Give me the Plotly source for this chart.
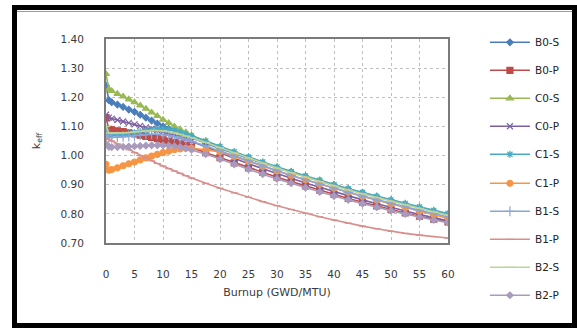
import plotly.graph_objects as go

burnup = [0, 0.5, 1, 2, 3, 4, 5, 6, 7, 8, 9, 10, 11, 12, 13, 14, 15,
          17.5, 20, 22.5, 25, 27.5, 30, 32.5, 35, 37.5, 40, 42.5, 45, 47.5, 50, 52.5, 55, 57.5, 60]

b0_s = [1.24, 1.19, 1.183, 1.175, 1.167, 1.158, 1.15, 1.14, 1.13, 1.12, 1.11, 1.10, 1.092, 1.084, 1.076, 1.068, 1.06,
        1.042, 1.024, 1.006, 0.99, 0.974, 0.958, 0.943, 0.928, 0.913, 0.899, 0.885, 0.872, 0.859, 0.846, 0.833, 0.821, 0.809, 0.797]
b0_p = [1.13, 1.09, 1.088, 1.085, 1.082, 1.078, 1.074, 1.07, 1.066, 1.062, 1.058, 1.054, 1.05, 1.045, 1.04, 1.034, 1.028,
        1.01, 0.993, 0.975, 0.958, 0.942, 0.926, 0.911, 0.896, 0.881, 0.867, 0.853, 0.84, 0.827, 0.815, 0.803, 0.792, 0.782, 0.772]
c0_s = [1.28, 1.228, 1.222, 1.212, 1.203, 1.193, 1.183, 1.172, 1.161, 1.148, 1.136, 1.123, 1.112, 1.10, 1.09, 1.08, 1.07,
        1.05, 1.03, 1.012, 0.995, 0.977, 0.96, 0.945, 0.93, 0.915, 0.90, 0.886, 0.873, 0.86, 0.847, 0.834, 0.822, 0.81, 0.798]
c0_p = [1.14, 1.13, 1.127, 1.122, 1.117, 1.112, 1.107, 1.102, 1.097, 1.092, 1.087, 1.082, 1.076, 1.07, 1.063, 1.056, 1.049,
        1.03, 1.01, 0.99, 0.972, 0.955, 0.938, 0.922, 0.906, 0.891, 0.876, 0.862, 0.848, 0.835, 0.822, 0.81, 0.798, 0.787, 0.776]
c1_s = [1.09, 1.07, 1.069, 1.07, 1.072, 1.075, 1.078, 1.082, 1.086, 1.089, 1.091, 1.091, 1.089, 1.085, 1.08, 1.074, 1.068,
        1.05, 1.031, 1.013, 0.995, 0.978, 0.961, 0.945, 0.93, 0.915, 0.9, 0.886, 0.873, 0.86, 0.848, 0.836, 0.824, 0.812, 0.801]
c1_p = [0.97, 0.95, 0.952, 0.958, 0.965, 0.972, 0.978, 0.985, 0.992, 0.998, 1.004, 1.01, 1.015, 1.02, 1.023, 1.025, 1.025,
        1.02, 1.012, 0.997, 0.98, 0.963, 0.947, 0.932, 0.917, 0.902, 0.888, 0.874, 0.86, 0.847, 0.834, 0.821, 0.809, 0.797, 0.785]
b1_s = [1.07, 1.062, 1.062, 1.063, 1.064, 1.066, 1.068, 1.07, 1.072, 1.073, 1.073, 1.072, 1.069, 1.065, 1.06, 1.055, 1.049,
        1.033, 1.016, 0.998, 0.981, 0.964, 0.948, 0.932, 0.917, 0.902, 0.888, 0.874, 0.861, 0.848, 0.836, 0.824, 0.812, 0.801, 0.79]
b1_p = [1.06, 1.055, 1.05, 1.04, 1.03, 1.02, 1.01, 1.0, 0.991, 0.982, 0.973, 0.964, 0.955, 0.947, 0.939, 0.931, 0.923,
        0.905, 0.888, 0.872, 0.857, 0.842, 0.828, 0.815, 0.802, 0.79, 0.779, 0.768, 0.758, 0.749, 0.74, 0.733, 0.727, 0.722, 0.717]
b2_s = [1.10, 1.078, 1.077, 1.077, 1.078, 1.079, 1.081, 1.083, 1.085, 1.086, 1.086, 1.085, 1.082, 1.078, 1.073, 1.067, 1.061,
        1.045, 1.027, 1.009, 0.991, 0.974, 0.957, 0.941, 0.926, 0.911, 0.896, 0.882, 0.869, 0.856, 0.843, 0.831, 0.819, 0.807, 0.795]
b2_p = [1.04, 1.03, 1.029, 1.029, 1.03, 1.031, 1.032, 1.033, 1.034, 1.035, 1.035, 1.035, 1.034, 1.032, 1.029, 1.025, 1.02,
        1.005, 0.988, 0.97, 0.953, 0.936, 0.92, 0.905, 0.89, 0.875, 0.861, 0.848, 0.835, 0.823, 0.811, 0.8, 0.789, 0.779, 0.77]

series_names = ["B0-S", "B0-P", "C0-S", "C0-P", "C1-S", "C1-P", "B1-S", "B1-P", "B2-S", "B2-P"]
series_values = [b0_s, b0_p, c0_s, c0_p, c1_s, c1_p, b1_s, b1_p, b2_s, b2_p]
colors = ["#4A7EBB", "#BE4B48", "#98B954", "#7D60A0", "#46AAC5", "#F69545", "#8DA5D4", "#D88E8C", "#BFD39A", "#A99BBD"]
symbols = ["diamond", "square", "triangle-up", "x-thin-open", "asterisk-open", "circle", "cross-thin-open", "line-ew-open", "line-ew-open", "diamond"]
sizes = [5, 6, 6, 6, 6, 6, 7, 5, 6, 5]

fig = go.Figure()
for i, (name, vals, col, sym, sz) in enumerate(zip(series_names, series_values, colors, symbols, sizes)):
    fig.add_trace(go.Scatter(
        x=burnup, y=vals, name=name, mode="lines+markers", legendgroup=name,
        legend="legend" if i < 5 else "legend2",
        line=dict(color=col, width=1.6),
        marker=dict(symbol=sym, size=sz, color=col, line=dict(color=col, width=1.2)),
    ))

txt = "#3a3a3a"
font_family = "DejaVu Sans"
leg_common = dict(xanchor="left", yanchor="top", font=dict(size=10.5, color="#222222"),
                  tracegroupgap=9, bgcolor="rgba(0,0,0,0)", itemwidth=40)


def px_y(p):
    return (243 - p) / 204


def px_x(p):
    return (p - 106) / 342


nofill_line = dict(color="black", width=0)
shapes = [
    dict(type="rect", xref="paper", yref="paper", x0=px_x(12), x1=px_x(577), y0=px_y(10), y1=px_y(5),
         fillcolor="black", line=nofill_line),
    dict(type="rect", xref="paper", yref="paper", x0=px_x(12), x1=px_x(577), y0=px_y(328), y1=px_y(323),
         fillcolor="black", line=nofill_line),
    dict(type="rect", xref="paper", yref="paper", x0=px_x(12), x1=px_x(17), y0=px_y(328), y1=px_y(5),
         fillcolor="black", line=nofill_line),
    dict(type="rect", xref="paper", yref="paper", x0=px_x(572), x1=px_x(577), y0=px_y(328), y1=px_y(5),
         fillcolor="black", line=nofill_line),
    dict(type="line", xref="paper", yref="paper", x0=px_x(17), x1=px_x(572), y0=px_y(11.5), y1=px_y(11.5),
         line=dict(color="#9a9a9a", width=1)),
]
fig.update_layout(
    width=577, height=328,
    margin=dict(l=106, r=129, t=39, b=85),
    paper_bgcolor="white", plot_bgcolor="white",
    font=dict(family=font_family, size=10, color=txt),
    showlegend=True,
    legend=dict(x=1.108, y=1.055, **leg_common),
    legend2=dict(x=1.108, y=0.364, **leg_common),
    shapes=shapes,
)
fig.update_xaxes(range=[0, 60], dtick=5, tick0=0, showgrid=True, gridcolor="#BFBFBF", griddash="dot",
                 showline=True, mirror=True, linecolor="#7a7a7a", linewidth=2, ticks="",
                 ticklabelstandoff=20, tickfont=dict(size=10.5, color=txt),
                 title=dict(text="Burnup (GWD/MTU)", font=dict(size=11, color=txt), standoff=10),
                 zeroline=False)
fig.update_yaxes(range=[0.70, 1.40], dtick=0.1, tick0=0.7, tickformat=".2f", showgrid=True,
                 gridcolor="#BFBFBF", griddash="dot",
                 showline=True, mirror=True, linecolor="#7a7a7a", linewidth=2, ticks="",
                 ticklabelstandoff=18, tickfont=dict(size=10.5, color=txt),
                 title=dict(text="k<sub>eff</sub>", font=dict(size=11, color=txt), standoff=18),
                 zeroline=False)

fig.write_html("out.html", config={"displayModeBar": False},
               post_script="document.body.style.margin='0';document.body.style.padding='0';")
